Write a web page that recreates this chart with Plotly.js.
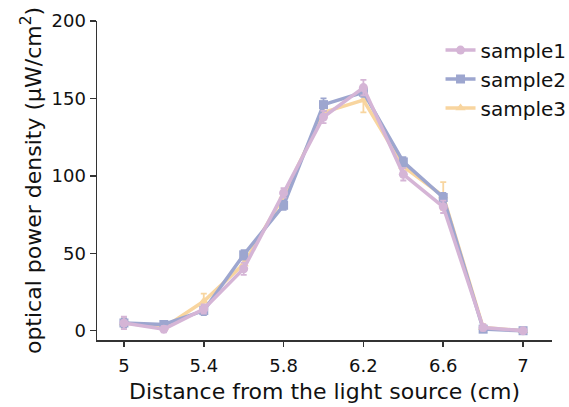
<!DOCTYPE html>
<html><head><meta charset="utf-8">
<script src="https://cdn.plot.ly/plotly-3.0.1.min.js"></script>
<style>html,body{margin:0;padding:0;background:#fff}#plot{width:569px;height:407px}</style>
</head><body><div id="plot"></div>
<script>
const distance = [5.0, 5.2, 5.4, 5.6, 5.8, 6.0, 6.2, 6.4, 6.6, 6.8, 7.0];
const sample1 = [5, 1, 14, 40, 89, 138, 157, 101, 80, 2, 0];
const sample1Err = [4, 2, 3, 4, 3, 4, 5, 4, 4, 2, 1];
const sample2 = [5, 4, 13, 49, 81, 146, 154, 109, 86, 1, 0];
const sample2Err = [3, 2, 3, 3, 3, 4, 3, 3, 3, 1, 1];
const sample3 = [5, 2, 19, 43, 87, 141, 149, 106, 87, 2, 0];
const sample3Err = [3, 2, 5, 3, 3, 3, 8, 3, 9, 2, 1];
const names = ['sample1', 'sample2', 'sample3'];
const colors = ['#d5b5d6', '#9da6cf', '#f8d59f'];
const symbols = ['circle', 'square', 'triangle-up'];
const vals = [sample1, sample2, sample3];
const errs = [sample1Err, sample2Err, sample3Err];

const traces = [];
for (let i = 2; i >= 0; i--) {
  traces.push({
    x: distance, y: vals[i], name: names[i], type: 'scatter', mode: 'lines+markers',
    legendrank: i + 1,
    line: {color: colors[i], width: 3.5},
    marker: {color: colors[i], symbol: symbols[i], size: 9},
    error_y: {type: 'data', array: errs[i], visible: true, color: colors[i], thickness: 1.8, width: 3}
  });
}
const layout = {
  width: 569, height: 407,
  margin: {l: 97, r: 17, t: 21, b: 67, autoexpand: false},
  paper_bgcolor: '#fff', plot_bgcolor: '#fff',
  font: {family: 'DejaVu Sans, sans-serif', size: 18, color: '#111'},
  showlegend: true,
  legend: {x: 0.755, y: 0.97, xanchor: 'left', yanchor: 'top', font: {size: 20}, bgcolor: 'rgba(0,0,0,0)', tracegroupgap: 0},
  xaxis: {
    range: [4.865, 7.145], tickvals: [5, 5.4, 5.8, 6.2, 6.6, 7], ticktext: ['5', '5.4', '5.8', '6.2', '6.6', '7'],
    showgrid: false, zeroline: false, showline: true, linecolor: '#333', linewidth: 1.5,
    ticks: 'outside', ticklen: 5, tickwidth: 1.5, tickcolor: '#333', ticklabelstandoff: 4,
    title: {text: 'Distance from the light source (cm)', font: {size: 22}, standoff: 8}
  },
  yaxis: {
    range: [-6, 200], tickvals: [0, 50, 100, 150, 200],
    showgrid: false, zeroline: false, showline: true, linecolor: '#333', linewidth: 1.5,
    ticks: 'outside', ticklen: 6, tickwidth: 1.5, tickcolor: '#333',
    title: {text: 'optical power density (μW/cm<sup>2</sup>)', font: {size: 22}, standoff: 4}
  }
};
Plotly.newPlot('plot', traces, layout, {displayModeBar: false, staticPlot: true});
</script></body></html>
